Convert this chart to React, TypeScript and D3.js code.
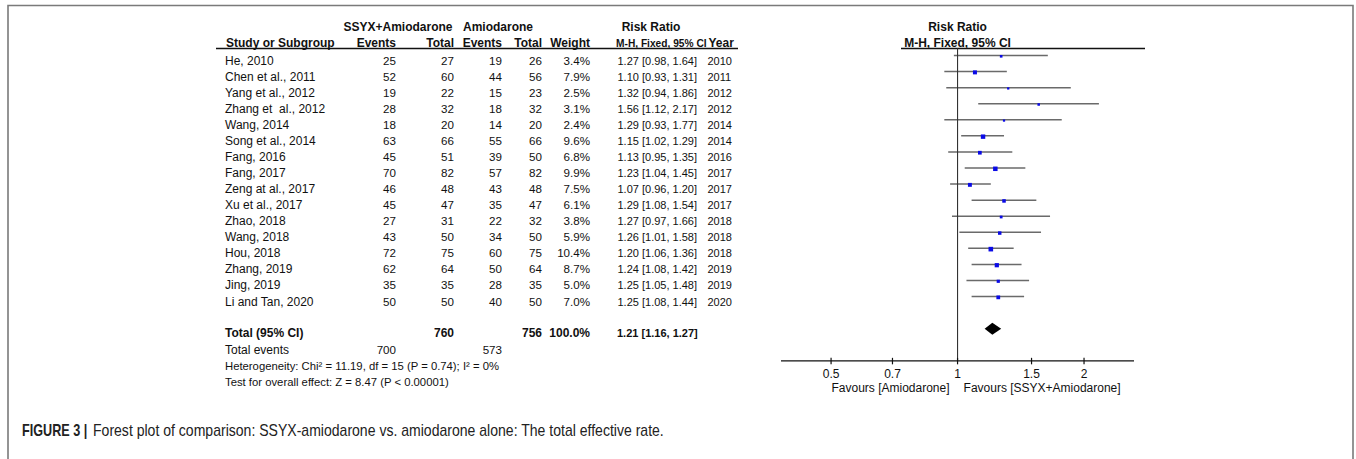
import React from "react";
import * as d3 from "d3";

const studies = [
  "He, 2010", "Chen et al., 2011", "Yang et al., 2012", "Zhang et  al., 2012", "Wang, 2014",
  "Song et al., 2014", "Fang, 2016", "Fang, 2017", "Zeng at al., 2017", "Xu et al., 2017",
  "Zhao, 2018", "Wang, 2018", "Hou, 2018", "Zhang, 2019", "Jing, 2019", "Li and Tan, 2020",
];
const expEvents = [25, 52, 19, 28, 18, 63, 45, 70, 46, 45, 27, 43, 72, 62, 35, 50];
const expTotal = [27, 60, 22, 32, 20, 66, 51, 82, 48, 47, 31, 50, 75, 64, 35, 50];
const ctrlEvents = [19, 44, 15, 18, 14, 55, 39, 57, 43, 35, 22, 34, 60, 50, 28, 40];
const ctrlTotal = [26, 56, 23, 32, 20, 66, 50, 82, 48, 47, 32, 50, 75, 64, 35, 50];
const weights = [3.4, 7.9, 2.5, 3.1, 2.4, 9.6, 6.8, 9.9, 7.5, 6.1, 3.8, 5.9, 10.4, 8.7, 5.0, 7.0];
const rr = [1.27, 1.1, 1.32, 1.56, 1.29, 1.15, 1.13, 1.23, 1.07, 1.29, 1.27, 1.26, 1.2, 1.24, 1.25, 1.25];
const lower = [0.98, 0.93, 0.94, 1.12, 0.93, 1.02, 0.95, 1.04, 0.96, 1.08, 0.97, 1.01, 1.06, 1.08, 1.05, 1.08];
const upper = [1.64, 1.31, 1.86, 2.17, 1.77, 1.29, 1.35, 1.45, 1.2, 1.54, 1.66, 1.58, 1.36, 1.42, 1.48, 1.44];
const years = [2010, 2011, 2012, 2012, 2014, 2014, 2016, 2017, 2017, 2017, 2018, 2018, 2018, 2019, 2019, 2020];

const totalExpEvents = 700;
const totalCtrlEvents = 573;
const totalExpN = 760;
const totalCtrlN = 756;
const pooled = { rr: 1.21, lo: 1.16, hi: 1.27 };
const axisTicks = [0.5, 0.7, 1, 1.5, 2];
const heterogeneityText = "Heterogeneity: Chi\u00B2 = 11.19, df = 15 (P = 0.74); I\u00B2 = 0%";
const overallText = "Test for overall effect: Z = 8.47 (P < 0.00001)";
const captionBold = "FIGURE 3 |";
const captionText = "Forest plot of comparison: SSYX-amiodarone vs. amiodarone alone: The total effective rate.";

const FONT = "'Liberation Sans', Arial, Helvetica, sans-serif";

export default function App() {
  const x = d3.scaleLog().domain([0.38, 2.63]).range([781, 1134]);
  const rowY = (i: number) => 55.5 + 16.07 * i;
  const size = d3.scaleSqrt().domain([0, 10.4]).range([0, 4.6]);
  const fmt2 = d3.format(".2f");
  const fmtW = (w: number) => d3.format(".1f")(w) + "%";

  const cols = {
    name: 225,
    expE: 396,
    expN: 454,
    ctrlE: 502,
    ctrlN: 542,
    weight: 590,
    rr: 617.5,
    year: 707.5,
  };

  const baseText = { fontFamily: FONT, fontSize: 12, fill: "#111" } as const;
  const numText = { ...baseText, fontSize: 11.6 } as const;
  const ciText = { ...baseText, fontSize: 11 } as const;
  const noteText = { ...baseText, fontSize: 11.3 } as const;
  const bold = { ...baseText, fontWeight: 700 } as const;

  const axisY = rowY(19);
  const headerLineY = 48.5;
  const capBoldScale = 0.79;
  const capScale = 0.878;

  return (
    <svg
      width={1356}
      height={459}
      style={{ position: "absolute", left: 0, top: 0, background: "#fff" }}
    >
      {/* frame */}
      <path d="M8,459 V5.5 H1353 V459" fill="none" stroke="#7a7a7a" strokeWidth={1.6} />

      {/* group headers */}
      <text x={398} y={30.5} textAnchor="middle" {...bold}>SSYX+Amiodarone</text>
      <text x={498} y={30.5} textAnchor="middle" {...bold}>Amiodarone</text>
      <text x={651} y={30.5} textAnchor="middle" {...bold}>Risk Ratio</text>
      <text x={x(1)} y={30.5} textAnchor="middle" {...bold}>Risk Ratio</text>

      {/* column headers */}
      <text x={cols.name + 1} y={46.5} {...bold}>Study or Subgroup</text>
      <text x={cols.expE} y={46.5} textAnchor="end" {...bold}>Events</text>
      <text x={cols.expN} y={46.5} textAnchor="end" {...bold}>Total</text>
      <text x={cols.ctrlE} y={46.5} textAnchor="end" {...bold}>Events</text>
      <text x={cols.ctrlN} y={46.5} textAnchor="end" {...bold}>Total</text>
      <text x={cols.weight} y={46.5} textAnchor="end" {...bold}>Weight</text>
      <text x={cols.rr - 1.5} y={46.5} {...bold} fontSize={10.2}>
        M-H, Fixed, 95% CI
      </text>
      <text x={cols.year + 1} y={46.5} {...bold}>Year</text>
      <text x={x(1)} y={46.5} textAnchor="middle" {...bold}>M-H, Fixed, 95% CI</text>

      <line x1={216} x2={738} y1={headerLineY} y2={headerLineY} stroke="#111" strokeWidth={1.3} />
      <line x1={901} x2={1145} y1={headerLineY} y2={headerLineY} stroke="#111" strokeWidth={1.3} />

      {/* study rows */}
      {studies.map((s, i) => {
        const ly = rowY(i);
        const ty = ly + 9;
        const sz = size(weights[i]);
        return (
          <g key={s}>
            <text x={cols.name} y={ty} {...baseText} style={{ whiteSpace: "pre" }}>{s}</text>
            <text x={cols.expE} y={ty} textAnchor="end" {...numText}>{expEvents[i]}</text>
            <text x={cols.expN} y={ty} textAnchor="end" {...numText}>{expTotal[i]}</text>
            <text x={cols.ctrlE} y={ty} textAnchor="end" {...numText}>{ctrlEvents[i]}</text>
            <text x={cols.ctrlN} y={ty} textAnchor="end" {...numText}>{ctrlTotal[i]}</text>
            <text x={cols.weight} y={ty} textAnchor="end" {...numText}>{fmtW(weights[i])}</text>
            <text x={cols.rr} y={ty} {...ciText}>
              {`${fmt2(rr[i])} [${fmt2(lower[i])}, ${fmt2(upper[i])}]`}
            </text>
            <text x={cols.year} y={ty} {...ciText}>{years[i]}</text>
            <line x1={x(lower[i])} x2={x(upper[i])} y1={ly} y2={ly} stroke="#6a6a6a" strokeWidth={1.5} />
            <rect
              x={x(rr[i]) - sz / 2}
              y={ly + 0.8 - sz / 2}
              width={sz}
              height={sz}
              fill="#0a0ae6"
            />
          </g>
        );
      })}

      {/* total */}
      <text x={cols.name} y={rowY(17) + 8.5} {...bold}>Total (95% CI)</text>
      <text x={cols.expN} y={rowY(17) + 8.5} textAnchor="end" {...bold}>{totalExpN}</text>
      <text x={cols.ctrlN} y={rowY(17) + 8.5} textAnchor="end" {...bold}>{totalCtrlN}</text>
      <text x={cols.weight} y={rowY(17) + 8.5} textAnchor="end" {...bold}>{fmtW(d3.sum(weights))}</text>
      <text x={cols.rr - 0.5} y={rowY(17) + 8.5} {...bold} fontSize={11}>
        {`${fmt2(pooled.rr)} [${fmt2(pooled.lo)}, ${fmt2(pooled.hi)}]`}
      </text>
      <path
        d={`M${x(pooled.lo)},${rowY(17)} L${x(pooled.rr)},${rowY(17) - 6} L${x(pooled.hi)},${rowY(17)} L${x(pooled.rr)},${rowY(17) + 6} Z`}
        fill="#000"
      />

      <text x={cols.name} y={rowY(18) + 9} {...baseText}>Total events</text>
      <text x={cols.expE} y={rowY(18) + 9} textAnchor="end" {...numText}>{totalExpEvents}</text>
      <text x={cols.ctrlE} y={rowY(18) + 9} textAnchor="end" {...numText}>{totalCtrlEvents}</text>
      <text x={cols.name} y={rowY(19) + 9.5} {...noteText}>{heterogeneityText}</text>
      <text x={cols.name} y={rowY(20) + 9.5} {...noteText}>{overallText}</text>

      {/* no-effect line */}
      <line x1={x(1)} x2={x(1)} y1={headerLineY} y2={axisY} stroke="#333" strokeWidth={1.1} />

      {/* axis */}
      <line x1={x.range()[0]} x2={x.range()[1]} y1={axisY} y2={axisY} stroke="#111" strokeWidth={1.2} />
      {axisTicks.map((t) => (
        <g key={t}>
          <line x1={x(t)} x2={x(t)} y1={axisY - 3} y2={axisY + 3.5} stroke="#111" strokeWidth={1.2} />
          <text x={x(t)} y={axisY + 17.5} textAnchor="middle" {...baseText}>{String(t)}</text>
        </g>
      ))}
      <text x={x(1) - 8} y={axisY + 31.5} textAnchor="end" {...baseText}>Favours [Amiodarone]</text>
      <text x={x(1) + 6} y={axisY + 31.5} {...baseText}>Favours [SSYX+Amiodarone]</text>

      {/* caption (condensed via horizontal scale) */}
      <g transform={`translate(22,435.5) scale(${capBoldScale},1)`}>
        <text x={0} y={0} fontFamily={FONT} fontSize={16} fontWeight={700} fill="#222">
          {captionBold}
        </text>
      </g>
      <g transform={`translate(93,435.5) scale(${capScale},1)`}>
        <text x={0} y={0} fontFamily={FONT} fontSize={16} fill="#222">
          {captionText}
        </text>
      </g>
    </svg>
  );
}
